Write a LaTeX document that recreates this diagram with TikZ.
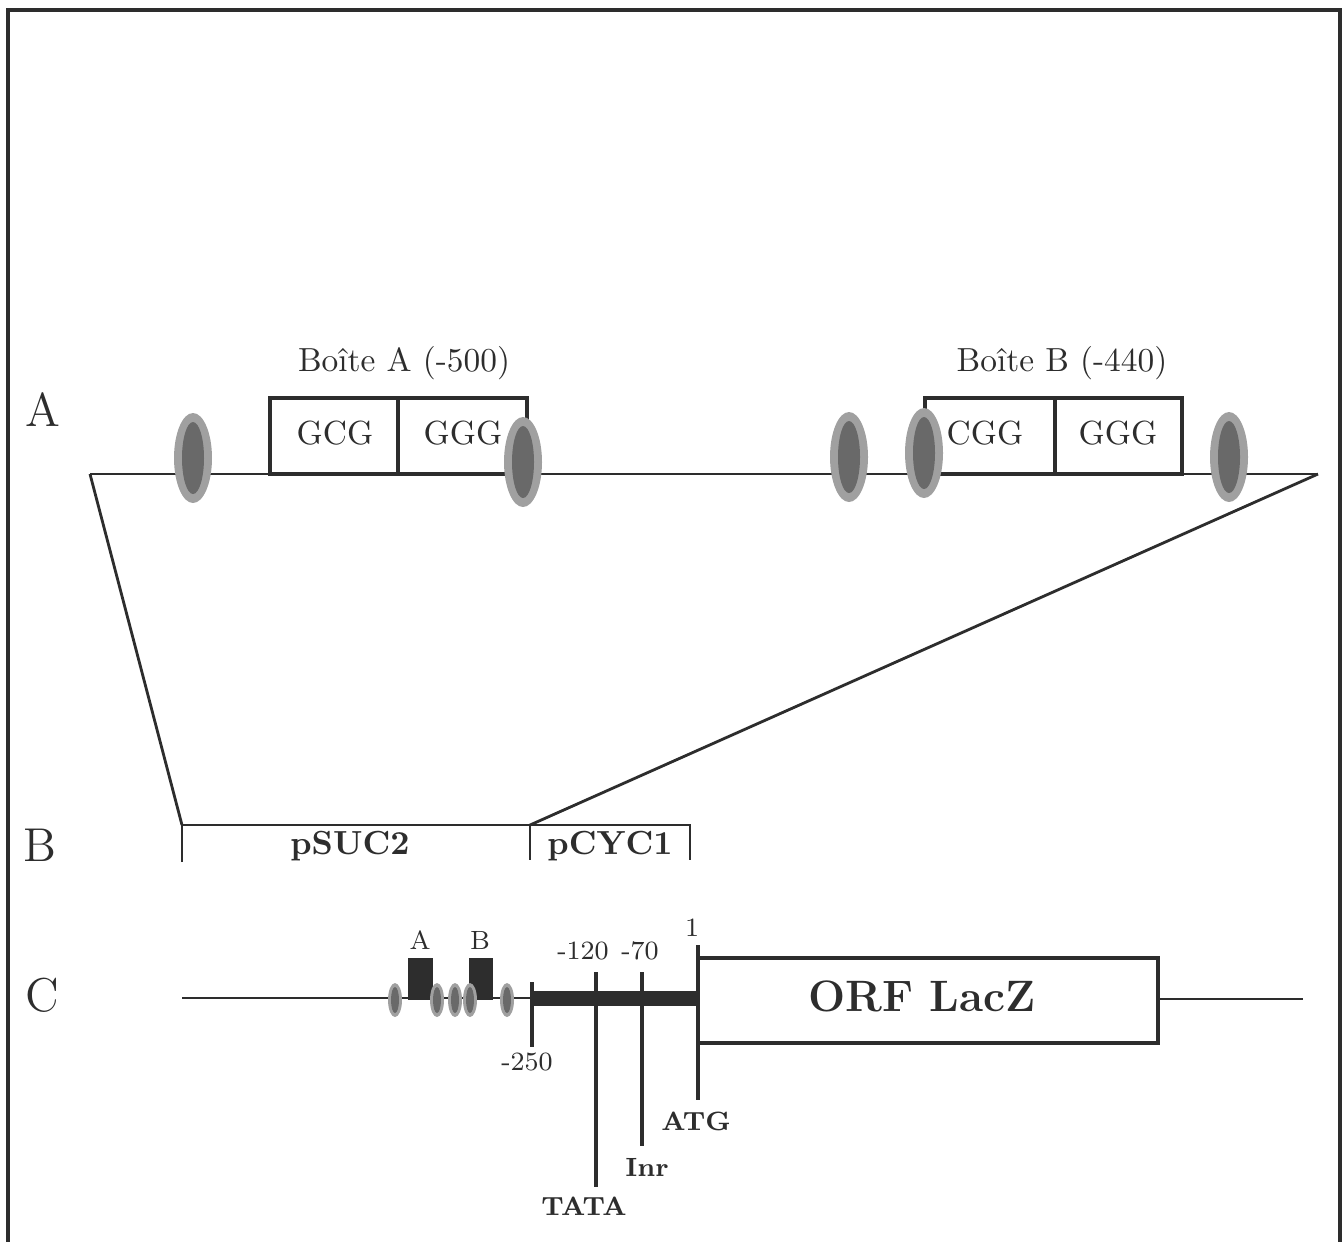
\documentclass[tikz,border=0pt]{standalone}
\usepackage{tikz}
\usetikzlibrary{positioning}
\usepackage{xcolor}
\definecolor{inkgray}{RGB}{45,45,45}
\definecolor{siteinner}{RGB}{105,105,105}
\definecolor{siteouter}{RGB}{160,160,160}

\begin{document}
\begin{tikzpicture}[x=0.01cm, y=-0.01cm,
    every node/.style={font=\fontsize{9.5}{11}\selectfont, inner sep=0pt, text=inkgray},
    panel/.style={font=\fontsize{13.5}{16}\selectfont},
    boldlab/.style={font=\fontsize{9.5}{11}\selectfont\bfseries},
    smalllab/.style={font=\fontsize{7.5}{9}\selectfont},
    smallbold/.style={font=\fontsize{7.5}{9}\selectfont\bfseries},
    dna/.style={draw=inkgray, line width=0.6pt},
    boxline/.style={draw=inkgray, line width=1.4pt},
    tick/.style={draw=inkgray, line width=0.9pt}]
  \useasboundingbox (0,0) rectangle (1343,1241);
  % frame
  \draw[inkgray, line width=0.9pt] (8,10) rectangle (1340,1270);

  % ---- A: promoter region with the two boxes
  \node[panel] (labA) at (43,410) {A};
  \coordinate (aL) at (90,474);
  \coordinate (aR) at (1318,474);
  \draw[dna] (aL) -- (aR);
  \draw[boxline, fill=white] (270,398) rectangle (527,474);
  \draw[boxline] (398,398) -- (398,474);
  \draw[boxline, fill=white] (925,398) rectangle (1182,474);
  \draw[boxline] (1055,398) -- (1055,474);
  \node (gcg) at (335,433) {GCG};
  \node (ggga) at (463,433) {GGG};
  \node (cgg) at (985,433) {CGG};
  \node (gggb) at (1118,433) {GGG};
  \node (boxA) at (404,363) {Bo\^{\i}te A (-500)};
  \node (boxB) at (1062,363) {Bo\^{\i}te B (-440)};
  % binding sites
  \foreach \sx/\sy in {193/458, 523/462, 849/457, 924/453, 1229/457} {
    \fill[siteouter] (\sx,\sy) ellipse [x radius=19, y radius=45];
    \fill[siteinner] (\sx,\sy) ellipse [x radius=11, y radius=36];
  }

  % ---- B: fusion of the two promoters
  \node[panel] (labB) at (40,845) {B};
  \coordinate (suc) at (182,825);
  \coordinate (cyc) at (530,825);
  \coordinate (cycend) at (690,825);
  \draw[dna, line width=0.8pt] (aL) -- (suc);
  \draw[dna, line width=0.8pt] (aR) -- (cyc);
  \draw[dna] (182,862) -- (suc) -- (cycend) -- (690,860);
  \draw[dna] (cyc) -- (530,860);
  \node[boldlab] (psuc) at (350,846) {pSUC2};
  \node[boldlab] (pcyc) at (610,846) {pCYC1};

  % ---- C: reporter construct
  \node[panel] (labC) at (42,995) {C};
  \draw[dna] (182,998) -- (532,998);
  \fill[inkgray] (408,958) rectangle (433,1000);
  \fill[inkgray] (469,958) rectangle (493,1000);
  \node[smalllab] (sa) at (420,940) {A};
  \node[smalllab] (sb) at (480,940) {B};
  \foreach \sx in {395, 437, 455, 470, 507} {
    \fill[siteouter] (\sx,1000) ellipse [x radius=7, y radius=17];
    \fill[siteinner] (\sx,1000) ellipse [x radius=4, y radius=13];
  }
  \fill[inkgray] (532,991) rectangle (698,1006);
  \draw[boxline, line width=1.1pt, fill=white] (698,958) rectangle (1158,1043);
  \draw[dna] (1158,999) -- (1303,999);
  \node[font=\fontsize{12.5}{15}\selectfont\bfseries] (orf) at (922,996) {ORF LacZ};
  % positions
  \draw[tick] (532,982) -- (532,1047);
  \node[smalllab] (p250) at (527,1062) {-250};
  \node[smalllab] (p120) at (583,951) {-120};
  \node[smalllab] (p70) at (640,951) {-70};
  \node[smalllab] (p1) at (692,928) {1};
  \node[smallbold] (tata) at (584,1206) {TATA};
  \node[smallbold] (inr) at (647,1167) {Inr};
  \node[smallbold] (atg) at (696,1121) {ATG};
  \draw[tick] (596,972) -- (596,1187);
  \draw[tick] (642,972) -- (642,1146);
  \draw[tick] (698,945) -- (698,1100);
\end{tikzpicture}
\end{document}
